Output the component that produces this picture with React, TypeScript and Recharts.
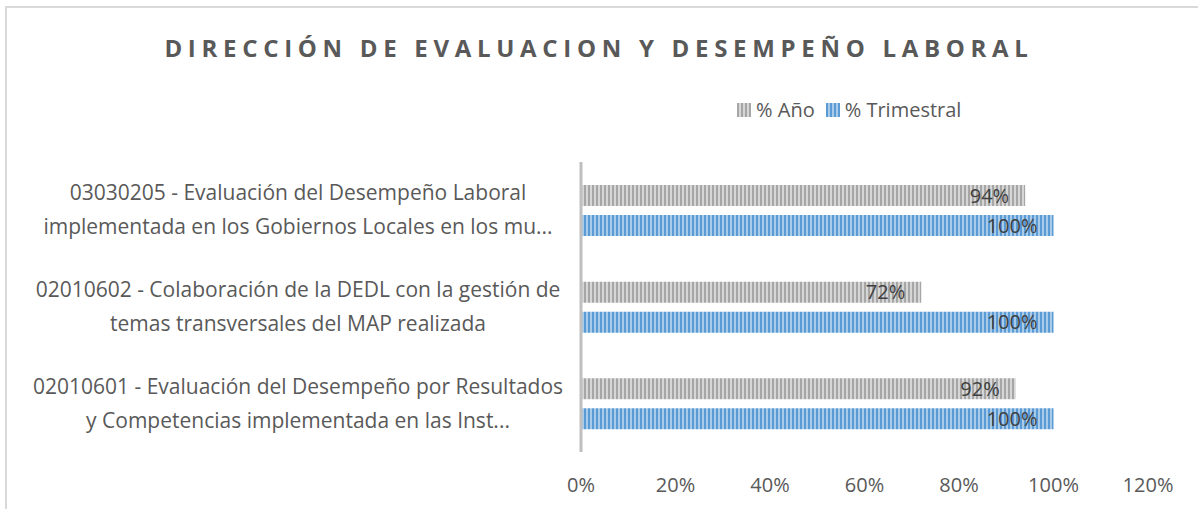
import { BarChart, Bar, XAxis, YAxis, LabelList } from "recharts";

const categories = [
  "03030205 - Evaluación del Desempeño Laboral\nimplementada en los Gobiernos Locales en los mu...",
  "02010602 - Colaboración de la DEDL con la gestión de\ntemas transversales del MAP realizada",
  "02010601 -  Evaluación del Desempeño por Resultados\ny Competencias implementada en las Inst...",
];
const pctAno = [94, 72, 92];
const pctTrimestral = [100, 100, 100];
const xTicks = [0, 20, 40, 60, 80, 100, 120];
const seriesNames = ["% Año", "% Trimestral"];

const data = categories.map((name, i) => ({
  name,
  ano: pctAno[i],
  trimestral: pctTrimestral[i],
}));

const FONT = "'Open Sans', sans-serif";

function CategoryTick({ y, payload }: any) {
  const lines = String(payload.value).split("\n");
  return (
    <text x={298} y={y} textAnchor="middle" fill="#595959" fontSize={21} fontFamily={FONT}>
      {lines.map((l, i) => (
        <tspan key={i} x={298} y={y - 10 + i * 34}>
          {l}
        </tspan>
      ))}
    </text>
  );
}

function LegendBlock() {
  const fills = ["url(#stripeGray)", "url(#stripeBlue)"];
  return (
    <div
      style={{
        position: "absolute",
        left: 737,
        top: 96,
        display: "flex",
        gap: 11,
        fontFamily: FONT,
        fontSize: 20,
        color: "#595959",
      }}
    >
      {seriesNames.map((label, i) => (
        <div key={label} style={{ display: "flex", alignItems: "center", gap: 5 }}>
          <svg width={14} height={14}>
            <rect width={14} height={14} fill={fills[i]} />
          </svg>
          <span>{label}</span>
        </div>
      ))}
    </div>
  );
}

export default function App() {
  return (
    <div style={{ position: "fixed", left: 0, top: 0, width: 1198, height: 509, overflow: "hidden", background: "#fff" }}>
      <div style={{ position: "absolute", left: 5, top: 6, width: 1230, height: 540, border: "2px solid #D9D9D9" }} />
      <div
        style={{
          position: "absolute",
          left: 0,
          width: 1198,
          top: 31,
          textAlign: "center",
          fontFamily: FONT,
          fontWeight: 700,
          fontSize: 24,
          letterSpacing: 5.7,
          color: "#595959",
        }}
      >
        DIRECCIÓN DE EVALUACION Y DESEMPEÑO LABORAL
      </div>
      <div style={{ position: "absolute", left: 0, top: 0 }}>
        <BarChart
          layout="vertical"
          width={1198}
          height={509}
          data={data}
          margin={{ top: 162, right: 50, bottom: 17, left: 3 }}
          barSize={21}
          barGap={9}
        >
          <defs>
            <pattern id="stripeGray" width={4} height={4} patternUnits="userSpaceOnUse">
              <rect width={4} height={4} fill="#D6D6D6" />
              <rect width={2} height={4} fill="#A6A6A6" />
            </pattern>
            <pattern id="stripeBlue" width={4} height={4} patternUnits="userSpaceOnUse">
              <rect width={4} height={4} fill="#A9CBEA" />
              <rect width={2} height={4} fill="#5B9BD5" />
            </pattern>
          </defs>
          <XAxis
            type="number"
            domain={[0, 120]}
            ticks={xTicks}
            tickFormatter={(v) => `${v}%`}
            axisLine={false}
            tickLine={false}
            tickMargin={20}
            height={40}
            tick={{ fill: "#595959", fontSize: 20, fontFamily: FONT }}
          />
          <YAxis
            type="category"
            dataKey="name"
            width={578}
            axisLine={{ stroke: "#BFBFBF", strokeWidth: 3 }}
            tickLine={false}
            tick={<CategoryTick />}
            interval={0}
          />
          <Bar dataKey="ano" name={seriesNames[0]} fill="url(#stripeGray)" isAnimationActive={false}>
            <LabelList
              dataKey="ano"
              position="insideRight"
              offset={16}
              formatter={(v: any) => `${v}%`}
              style={{ fill: "#404040", fontSize: 20, fontFamily: FONT }}
            />
          </Bar>
          <Bar dataKey="trimestral" name={seriesNames[1]} fill="url(#stripeBlue)" isAnimationActive={false}>
            <LabelList
              dataKey="trimestral"
              position="insideRight"
              offset={16}
              formatter={(v: any) => `${v}%`}
              style={{ fill: "#404040", fontSize: 20, fontFamily: FONT }}
            />
          </Bar>
        </BarChart>
      </div>
      <LegendBlock />
    </div>
  );
}
